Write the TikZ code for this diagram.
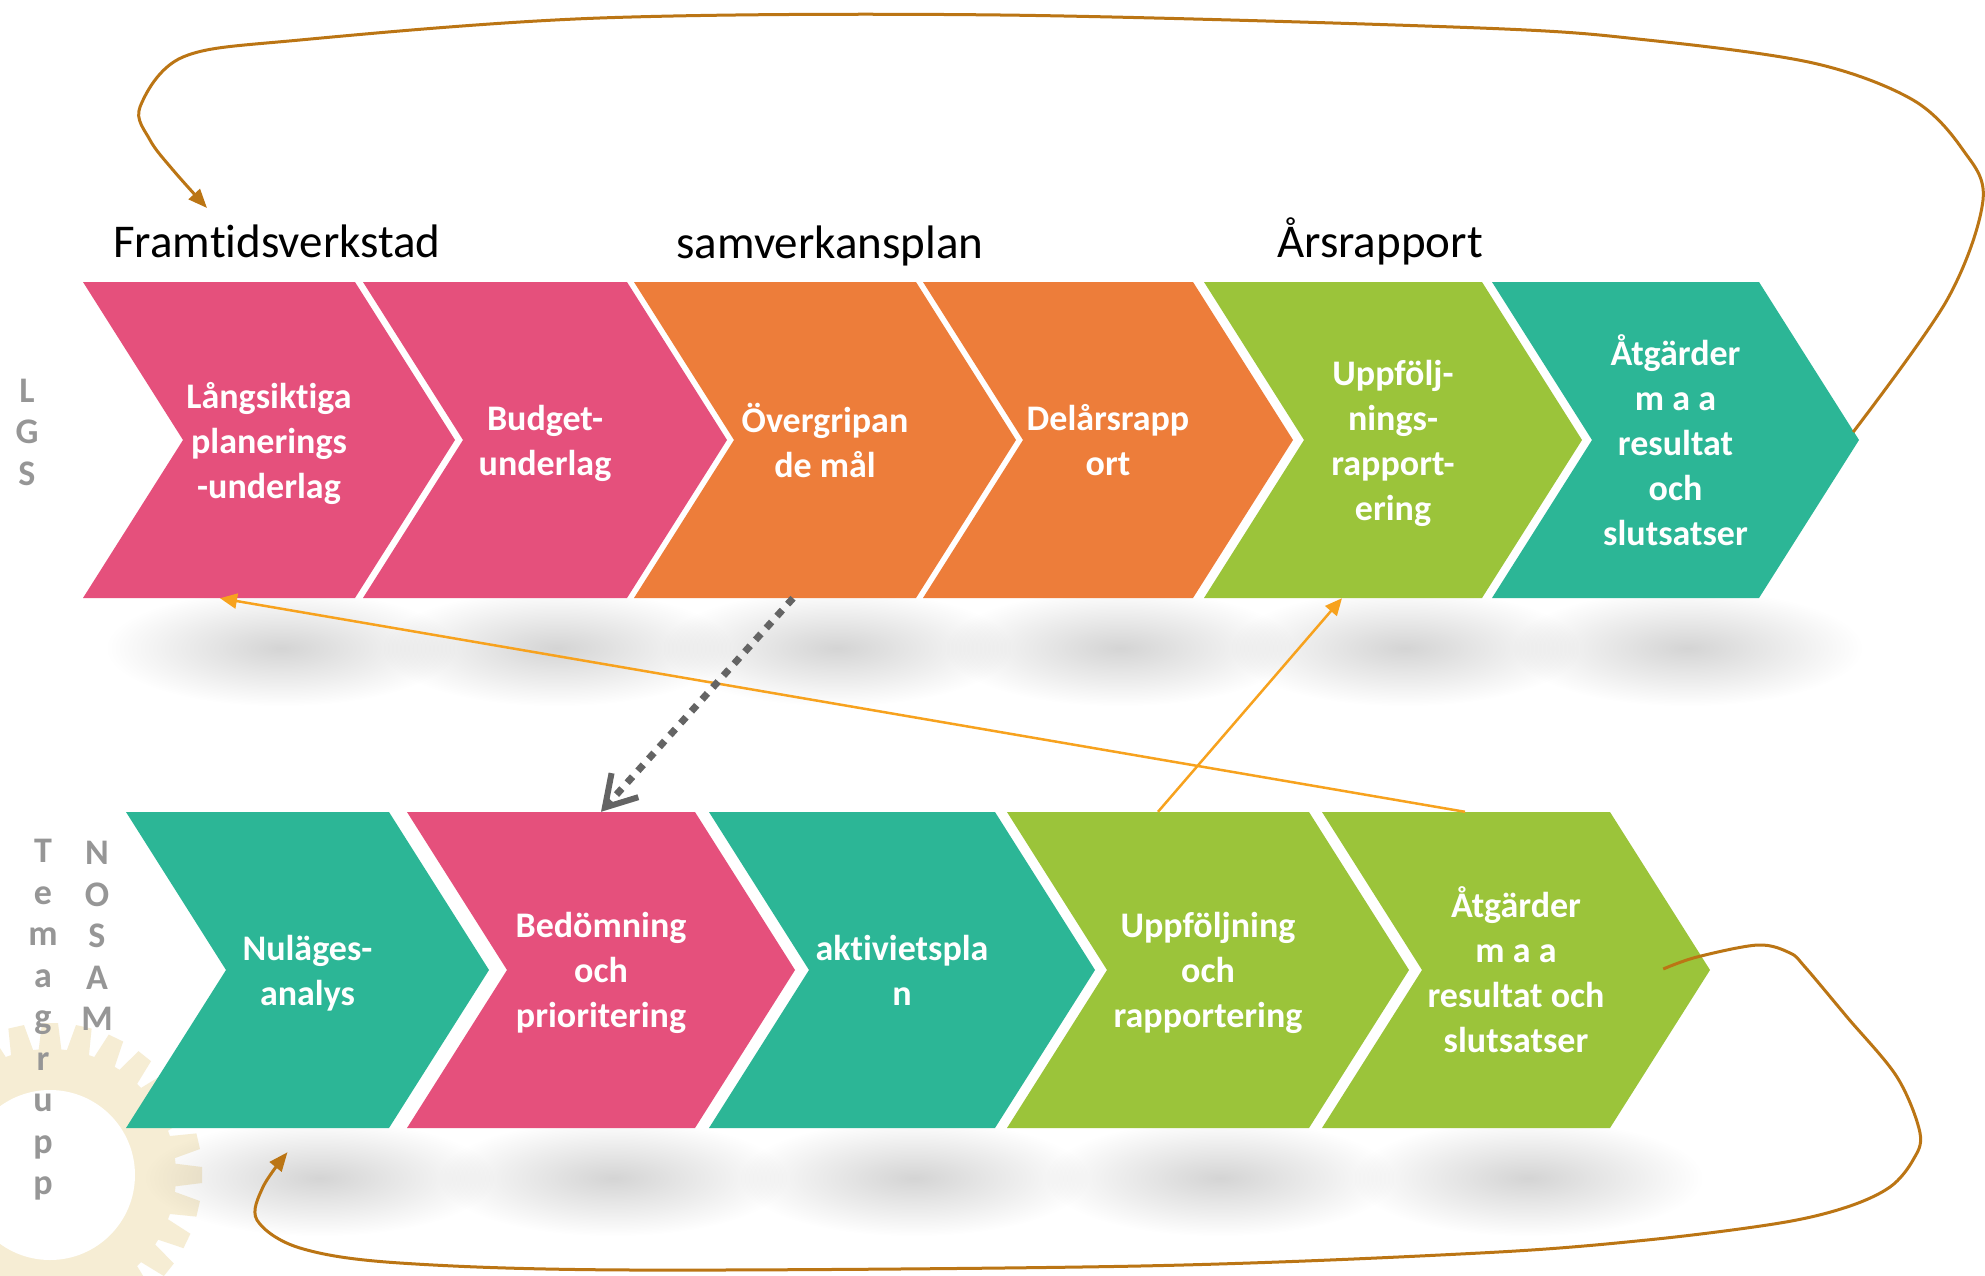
\documentclass[tikz,border=0pt]{standalone}
\usepackage{fontspec}
\setmainfont{Carlito}[Ligatures=CommonOff]
\usetikzlibrary{calc,arrows.meta,fadings,positioning}

\definecolor{chevpink}{RGB}{229,80,124}
\definecolor{chevorange}{RGB}{237,125,58}
\definecolor{chevgreen}{RGB}{155,196,58}
\definecolor{chevteal}{RGB}{44,182,150}
\definecolor{loopbrown}{RGB}{187,117,20}
\definecolor{linkorange}{RGB}{247,162,30}
\definecolor{linkgray}{RGB}{100,100,100}
\definecolor{sidegray}{RGB}{150,150,150}
\definecolor{gearbeige}{RGB}{246,237,212}

\tikzfading[name=shadowfade, inner color=transparent!0, outer color=transparent!100]

% chevron block: name, left x, right x, centre y, colour, text
\newcommand{\chevblock}[6]{%
  \fill[black, fill opacity=0.17, path fading=shadowfade]
        ({(#2+#3+100)/2+12},{#4+208}) ellipse (175 and 58);
  \fill[#5] (#2,#4-158) -- (#3,#4-158) -- (#3+100,#4) -- (#3,#4+158)
        -- (#2,#4+158) -- (#2+100,#4) -- cycle;
  \node[chevtext, minimum width=#3pt-#2pt] (#1) at ({(#2+#3+100)/2},#4) {#6};
}

\begin{document}
\begin{tikzpicture}[x=1pt,y=-1pt,
    chevtext/.style={text=white, font=\bfseries\fontsize{36}{45}\selectfont,
                     align=center, minimum height=316pt, inner sep=0pt, yshift=-5pt,
                     execute at begin node={\rule{0pt}{32pt}},
                     execute at end node={\rule[-10pt]{0pt}{10pt}}},
    sidetext/.style={text=sidegray, font=\bfseries\fontsize{36}{41.5}\selectfont,
                     align=center, inner sep=0pt},
    toplabel/.style={font=\fontsize{47}{56}\selectfont, anchor=base},
    orangelink/.style={draw=linkorange, line width=2.5pt, -{Triangle[length=17pt,width=15pt]}},
    looplink/.style={draw=loopbrown, line width=3pt, -{Triangle[length=19pt,width=15pt]}},
    dotlink/.style={draw=linkgray, line width=7pt, line cap=butt, dash pattern=on 8pt off 8pt,
                    -{Straight Barb[length=30pt,width=36pt,line width=6pt]}}]

    \useasboundingbox (0,0) rectangle (1985,1276);
    \fill[white] (0,0) rectangle (1985,1276);
    \clip (0,0) rectangle (1985,1276);

    % faint gear behind the lower row
    \fill[gearbeige] (50,1175) circle (126);
    \foreach \a in {0,12.857,...,359}
        \fill[gearbeige, shift={(50,1175)}, rotate=\a] (-12,120) -- (-8,152) -- (8,152) -- (12,120) -- cycle;
    \fill[white] (50,1175) circle (85);

    % upper row
    \chevblock{a1}{83}{355}{440}{chevpink}{Långsiktiga\\planerings\\-underlag}
    \chevblock{a2}{363}{627}{440}{chevpink}{Budget-\\underlag}
    \chevblock{a3}{634}{916}{440}{chevorange}{Övergripan\\de mål}
    \chevblock{a4}{923}{1193}{440}{chevorange}{Delårsrapp\\ort}
    \chevblock{a5}{1204}{1482}{440}{chevgreen}{Uppfölj-\\nings-\\rapport-\\ering}
    \chevblock{a6}{1492}{1759}{440}{chevteal}{Åtgärder\\m a a\\resultat\\och\\slutsatser}

    % lower row
    \chevblock{b1}{126}{389}{970}{chevteal}{Nuläges-\\analys}
    \chevblock{b2}{407}{695}{970}{chevpink}{Bedömning\\och\\prioritering}
    \chevblock{b3}{709}{995}{970}{chevteal}{aktivietspla\\n}
    \chevblock{b4}{1007}{1309}{970}{chevgreen}{Uppföljning\\och\\rapportering}
    \chevblock{b5}{1322}{1610}{970}{chevgreen}{Åtgärder\\m a a\\resultat och\\slutsatser}

    % side texts
    \node[sidetext] (lgs) at (27,432) {L\\G\\S};
    \node[sidetext] (temagrupp) at (43,1020) {T\\e\\m\\a\\g\\r\\u\\p\\p};
    \node[sidetext] (nosam) at (97,936) {N\\O\\S\\A\\M};

    % headings over the upper row
    \node[toplabel] (lbl1) at (277,257) {Framtidsverkstad};
    \node[toplabel] (lbl2) at (830,258) {samverkansplan};
    \node[toplabel] (lbl3) at (1380,257) {Årsrapport};

    % links between the rows
    \draw[orangelink] ($(b5.north)+(-51,-5)$) -- ($(a1.south)+(-49,-5)$);
    \draw[orangelink] ($(b4.north)+(-50,-5)$) -- ($(a5.south)+(-51,-5)$);
    \draw[dotlink] ($(a3.south)+(-32,-5)$) -- ($(b2.north)+(0,-5)$);

    % the two loops
    \coordinate (topstart) at ($(a6.east)+(44,-13)$);
    \coordinate (toparrow) at (207,208);
    \draw[looplink] plot[smooth, tension=0.55] coordinates {(topstart) (1947,300) (1983,200)
        (1963,150) (1913,100) (1813,63) (1647,40) (1480,28) (1000,15) (600,18) (300,40)
        (183,57) (140,107) (150,140) (173,170) (toparrow)};

    \coordinate (botstart) at ($(b5.east)+(3,-6)$);
    \coordinate (botarrow) at ($(b1.south)+(-20,19)$);
    \draw[looplink] plot[smooth, tension=0.55] coordinates {(botstart) (1697,957) (1758,945)
        (1790,953) (1805,967) (1847,1017) (1897,1077) (1920,1133) (1913,1160) (1890,1187)
        (1847,1207) (1780,1223) (1647,1240) (1480,1253) (1140,1266) (633,1270) (400,1263)
        (300,1248) (257,1220) (263,1187) (botarrow)};
\end{tikzpicture}
\end{document}
